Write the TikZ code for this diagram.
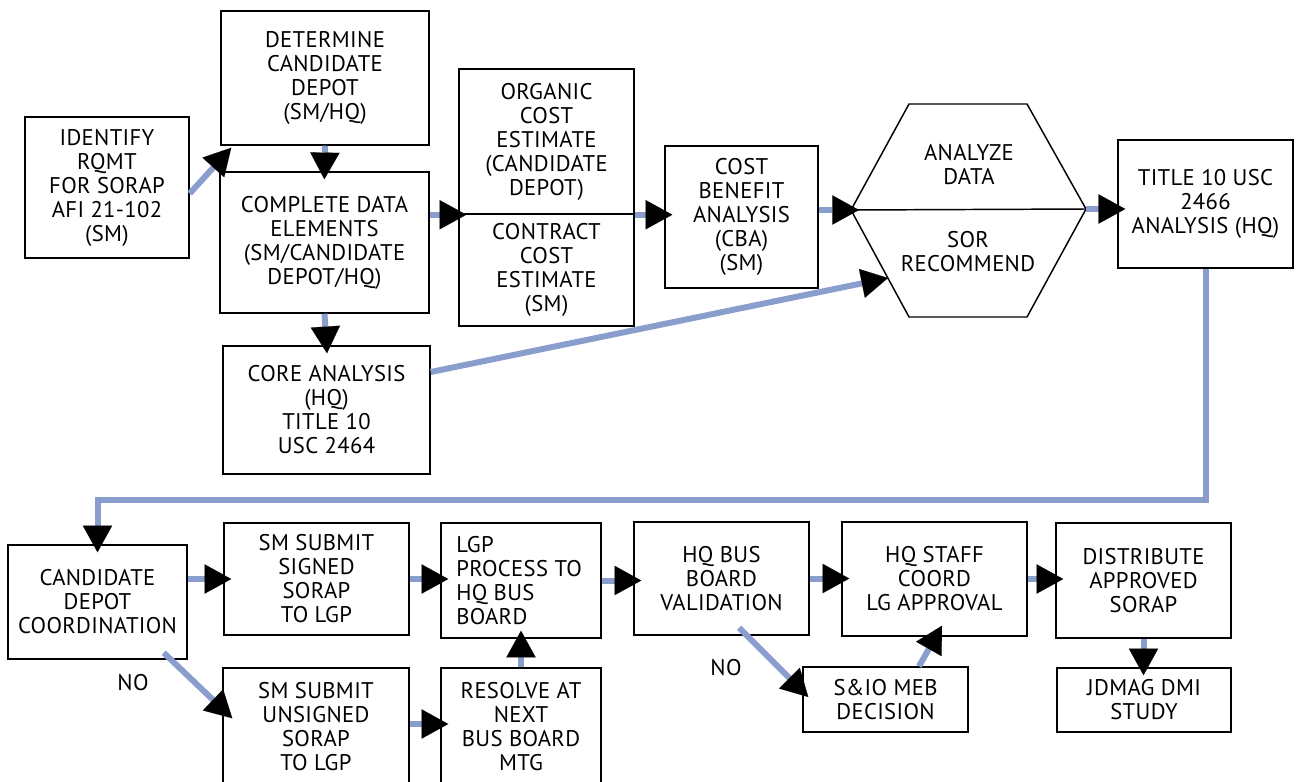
\documentclass[tikz,border=0pt]{standalone}
\usepackage{fontspec}
\setmainfont{PT Sans}[LetterSpace=1.5]
\usetikzlibrary{arrows.meta,calc}
\definecolor{linkblue}{RGB}{138,158,206}
\begin{document}
\begin{tikzpicture}[
  x=0.75pt, y=-0.75pt,
  txt/.style={align=center, inner sep=0pt, font=\fontsize{17}{18}\selectfont},
  box/.style={txt, draw, line width=1.1pt},
  sz/.style 2 args={minimum width=#1*0.75pt, minimum height=#2*0.75pt},
  link/.style={draw=linkblue, line width=4.5pt,
    -{Triangle[length=20pt,width=22pt,line width=0.1pt,color=black]},
    shorten >=-6pt},
  diag/.style={link, shorten >=0pt}
]
\useasboundingbox (0,0) rectangle (1298,781);
\clip (0,0) rectangle (1298,781);

% upper row
\node[box, sz={164}{141}] (idr)  at (107,187.5) {IDENTIFY\\RQMT\\ FOR SORAP\\AFI 21-102\\(SM)};
\node[box, sz={208}{134}] (det)  at (325,78)    {DETERMINE\\CANDIDATE\\DEPOT\\(SM/HQ)};
\node[box, sz={209}{141}] (cde)  at (324.5,242.5) {COMPLETE DATA\\ELEMENTS\\(SM/CANDIDATE\\DEPOT/HQ)};
\node[box, sz={207}{128}] (core) at (326.5,410) {CORE ANALYSIS\\(HQ)\\TITLE 10\\USC 2464};
\node[box, sz={175}{145}] (org)  at (546.5,141.5) {ORGANIC\\COST\\ESTIMATE\\(CANDIDATE\\DEPOT)};
\node[box, sz={175}{112}] (con)  at (546.5,270) {CONTRACT\\COST\\ESTIMATE\\(SM)};
\node[box, sz={153}{142}] (cba)  at (741.5,217) {COST\\BENEFIT\\ANALYSIS\\(CBA)\\(SM)};
\node[box, sz={175}{128}] (t10)  at (1205.5,204) {TITLE 10 USC\\2466\\ANALYSIS (HQ)};

% decision hexagon, split in two halves
\coordinate (hexL) at (851,210);
\coordinate (hexR) at (1086,209);
\coordinate (hexLL) at (888,278);
\draw[line width=1.1pt, line join=miter]
  (hexL) -- (909,104) -- (1027,104) -- (hexR) -- (1027,317) -- (909,317) -- cycle;
\draw[line width=1.1pt] (hexL) -- (hexR);
\node[txt] (ana) at (969,165) {ANALYZE\\DATA};
\node[txt] (sor) at (968,252) {SOR\\RECOMMEND};

% lower row
\node[box, sz={179}{114}] (cdc) at (97.5,602)   {CANDIDATE\\DEPOT\\COORDINATION};
\node[box, sz={185}{112}] (sss) at (316.5,579)  {SM SUBMIT\\SIGNED\\SORAP\\TO LGP};
\node[box, sz={160}{115}] (lgp) at (521,580.5)  {};
\node[txt, align=left, anchor=west] (lgpt) at (456,580.5) {LGP\\PROCESS TO\\HQ BUS\\BOARD};
\node[box, sz={175}{113}] (hqb) at (721.5,578.5) {HQ BUS\\BOARD\\VALIDATION};
\node[box, sz={185}{114}] (hqs) at (934.5,579)  {HQ STAFF\\COORD\\LG APPROVAL};
\node[box, sz={175}{115}] (dis) at (1143.5,580.5) {DISTRIBUTE\\APPROVED\\SORAP};
\node[box, sz={174}{64}]  (jdm) at (1144,700)   {JDMAG DMI\\STUDY};
\node[box, sz={165}{65}]  (sio) at (885.5,699.5) {S\&IO MEB\\DECISION};
\node[box, sz={186}{118}] (ssu) at (316,727)    {SM SUBMIT\\UNSIGNED\\SORAP\\ TO LGP};
\node[box, sz={160}{118}] (res) at (521,727)    {RESOLVE AT\\NEXT\\BUS BOARD\\MTG};

\node[txt] (no1) at (133,683) {NO};
\node[txt] (no2) at (726,668) {NO};

% connectors, upper part
\draw[diag] ($(idr.east)+(0,6)$) -- ($(det.south west)+(11,2)$);
\draw[link] (det.south) -- (cde.north);
\draw[link] (cde.south) -- (core.north);
\draw[link] (cde.east |- org.south west) -- (org.south west);
\draw[link] (org.south east) -- (cba.west |- org.south east);
\draw[link] (cba.east |- hexL) -- (hexL);
\draw[link] (hexR) -- (t10.west |- hexR);
\draw[diag] ($(core.east)+(0,-38)$) -- (hexLL);

% return line to the lower row
\coordinate (gap) at (0,500);
\draw[link] (t10.south) |- (gap -| cdc.north) -- (cdc.north);

% connectors, lower part
\draw[link] (sss.west -| cdc.east) -- (sss.west);
\draw[link] (sss.east) -- (sss.east -| lgp.west);
\draw[link] (lgp.east) -- (lgp.east -| hqb.west);
\draw[link] (hqb.east) -- (hqb.east -| hqs.west);
\draw[link] (hqs.east) -- (hqs.east -| dis.west);
\draw[link] (dis.south) -- (dis.south |- jdm.north);
\draw[diag] ($(cdc.south east)+(-24,-7)$) -- ($(ssu.north west)+(10,51)$);
\draw[link] ($(ssu.east)+(0,-3)$) -- ($(ssu.east -| res.west)+(0,-3)$);
\draw[link] (res.north) -- (res.north |- lgp.south);
\draw[diag] ($(hqb.south)+(17.5,-8)$) -- ($(sio.west)+(6,-2.5)$);
\draw[diag] ($(sio.north)+(33.5,0)$) -- ($(hqs.south)+(7.5,-11)$);
\end{tikzpicture}
\end{document}
